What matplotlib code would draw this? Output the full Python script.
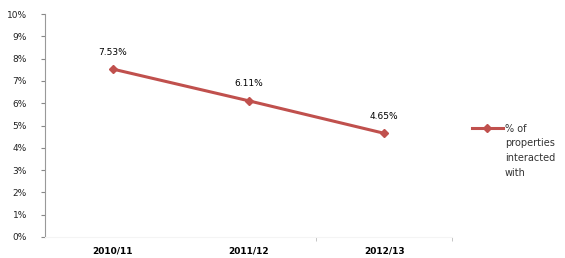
import matplotlib
matplotlib.use("Agg")
import matplotlib.pyplot as plt
from matplotlib.ticker import FixedLocator, NullFormatter

years = ["2010/11", "2011/12", "2012/13"]
share = [7.53, 6.11, 4.65]
labels = ["7.53%", "6.11%", "4.65%"]
series_name = ["% of", "properties", "interacted", "with"]

red = "#C0504D"

fig = plt.figure(figsize=(5.65, 2.58), dpi=100)
ax = fig.add_axes([45 / 565, 21 / 258, 407 / 565, 223 / 258])

x = list(range(len(years)))
ax.plot(x, share, color=red, lw=2.2, marker="D", ms=4, label=series_name[0])
for xi, yi, t in zip(x, share, labels):
    ax.annotate(t, (xi, yi), xytext=(0, 9), textcoords="offset points",
                ha="center", va="bottom", fontsize=6.5)

ax.set_xlim(-0.5, 2.5)
ax.set_ylim(0, 10)
ax.set_yticks(range(0, 11))
ax.set_yticklabels([f"{v}%" for v in range(0, 11)], fontsize=6.5, color="#222222")
ax.set_xticks(x)
ax.set_xticklabels(years, fontsize=6.5, fontweight="bold")
ax.tick_params(axis="x", length=0, pad=7)
ax.xaxis.set_minor_locator(FixedLocator([1.5, 2.5]))
ax.xaxis.set_minor_formatter(NullFormatter())
ax.tick_params(axis="x", which="minor", length=3, color="#bbbbbb", direction="out")
ax.tick_params(axis="y", length=3, color="#888888", pad=10)

for s in ["top", "right"]:
    ax.spines[s].set_visible(False)
ax.spines["bottom"].set_color("#f4f4f4")
ax.spines["left"].set_color("#999999")
ax.spines["left"].set_linewidth(0.8)

# legend: handle sits beside the first line of the wrapped label
leg = fig.legend(loc="upper left", bbox_to_anchor=(468 / 565, 1 - 120 / 258),
                 frameon=False, fontsize=7, handlelength=3.2, handletextpad=0.2,
                 borderaxespad=0)
for t in leg.get_texts():
    t.set_color("#333333")
fig.text(505 / 565, 1 - 138 / 258, "\n".join(series_name[1:]), fontsize=7,
         color="#333333", va="top", ha="left", linespacing=1.65)

fig.savefig("out.png", dpi=100)
